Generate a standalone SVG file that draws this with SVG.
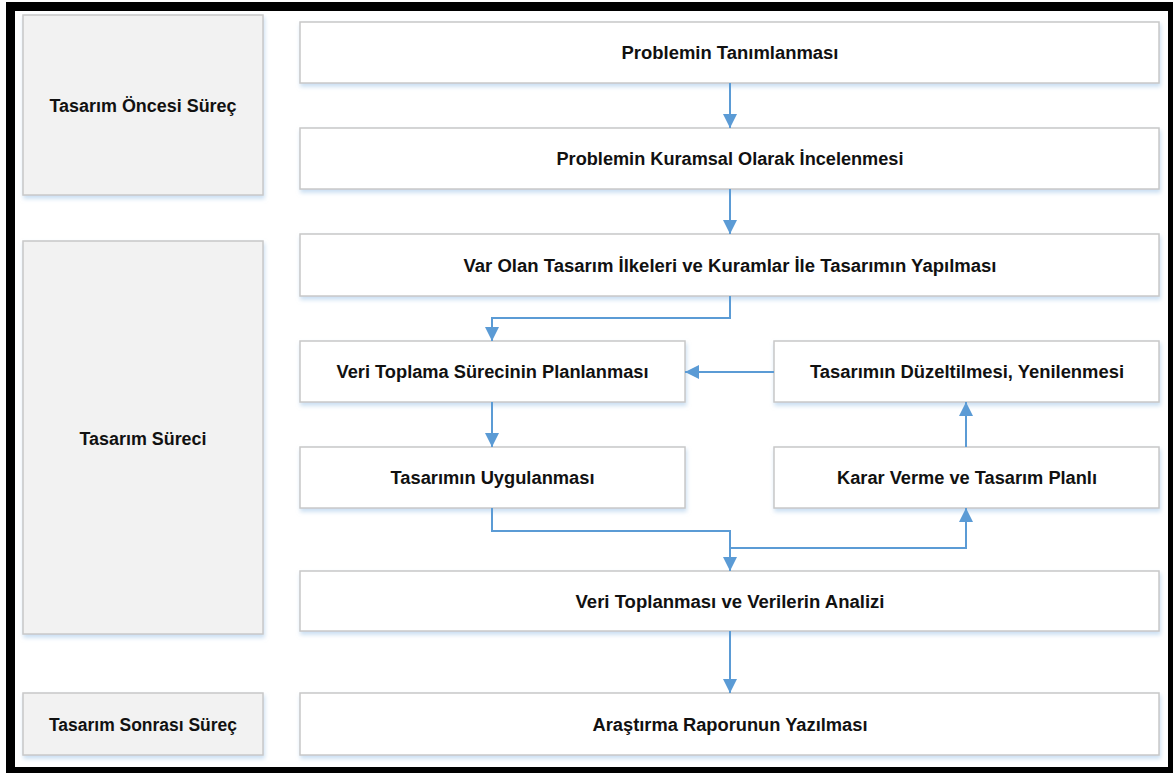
<svg xmlns="http://www.w3.org/2000/svg" width="1173" height="773" viewBox="0 0 1173 773">
<style>
.box{fill:#ffffff;stroke:#c8c8c8;stroke-width:1.5;filter:url(#sh)}
.side{fill:#f2f2f2;stroke:#c8c8c8;stroke-width:1.5;filter:url(#sh)}
.t{font-family:"Liberation Sans",Arial,sans-serif;font-weight:bold;font-size:18px;fill:#111111;text-anchor:middle}
.c{fill:none;stroke:#5b9bd5;stroke-width:2}
</style>
<defs>
<filter id="sh" x="-5%" y="-20%" width="110%" height="150%">
<feDropShadow dx="1" dy="3" stdDeviation="2" flood-color="#9dc3e6" flood-opacity="0.55"/>
</filter>
<marker id="ah" markerUnits="userSpaceOnUse" markerWidth="14" markerHeight="14" refX="14" refY="7" orient="auto">
<path d="M0,0 L14,7 L0,14 z" fill="#5b9bd5"/>
</marker>
</defs>
<rect x="0" y="0" width="1173" height="773" fill="#ffffff"/>
<rect x="10.5" y="6.5" width="1162" height="765" fill="none" stroke="#000000" stroke-width="9"/>

<g id="n-oncesi"><rect class="side" x="23" y="15" width="240" height="180"/><text class="t" x="143" y="112" textLength="187" lengthAdjust="spacingAndGlyphs">Tasarım Öncesi Süreç</text></g>
<g id="n-sureci"><rect class="side" x="23" y="241" width="240" height="393"/><text class="t" x="143" y="445" textLength="127" lengthAdjust="spacingAndGlyphs">Tasarım Süreci</text></g>
<g id="n-sonrasi"><rect class="side" x="23" y="693" width="240" height="62"/><text class="t" x="143" y="731" textLength="188" lengthAdjust="spacingAndGlyphs">Tasarım Sonrası Süreç</text></g>

<g id="n1"><rect class="box" x="300" y="22" width="859" height="61"/><text class="t" x="730" y="59" textLength="217" lengthAdjust="spacingAndGlyphs">Problemin Tanımlanması</text></g>
<g id="n2"><rect class="box" x="300" y="128" width="859" height="61"/><text class="t" x="730" y="165" textLength="347" lengthAdjust="spacingAndGlyphs">Problemin Kuramsal Olarak İncelenmesi</text></g>
<g id="n3"><rect class="box" x="300" y="234" width="859" height="62"/><text class="t" x="730" y="272" textLength="533" lengthAdjust="spacingAndGlyphs">Var Olan Tasarım İlkeleri ve Kuramlar İle Tasarımın Yapılması</text></g>
<g id="n4"><rect class="box" x="300" y="341" width="385" height="61"/><text class="t" x="492.5" y="378" textLength="312" lengthAdjust="spacingAndGlyphs">Veri Toplama Sürecinin Planlanması</text></g>
<g id="n5"><rect class="box" x="774" y="341" width="385" height="61"/><text class="t" x="967" y="378" textLength="314" lengthAdjust="spacingAndGlyphs">Tasarımın Düzeltilmesi, Yenilenmesi</text></g>
<g id="n6"><rect class="box" x="300" y="447" width="385" height="61"/><text class="t" x="492.5" y="484" textLength="204" lengthAdjust="spacingAndGlyphs">Tasarımın Uygulanması</text></g>
<g id="n7"><rect class="box" x="774" y="447" width="385" height="61"/><text class="t" x="967" y="484" textLength="260" lengthAdjust="spacingAndGlyphs">Karar Verme ve Tasarım Planlı</text></g>
<g id="n8"><rect class="box" x="300" y="571" width="859" height="60"/><text class="t" x="730" y="608" textLength="309" lengthAdjust="spacingAndGlyphs">Veri Toplanması ve Verilerin Analizi</text></g>
<g id="n9"><rect class="box" x="300" y="693" width="859" height="62"/><text class="t" x="730" y="731" textLength="275" lengthAdjust="spacingAndGlyphs">Araştırma Raporunun Yazılması</text></g>

<g id="connectors">
<path class="c" d="M730,83 V128" marker-end="url(#ah)"/>
<path class="c" d="M730,189 V234" marker-end="url(#ah)"/>
<path class="c" d="M730,296 V318 H492 V341" marker-end="url(#ah)"/>
<path class="c" d="M774,372 H685" marker-end="url(#ah)"/>
<path class="c" d="M492,402 V447" marker-end="url(#ah)"/>
<path class="c" d="M492,508 V531 H730 V571" marker-end="url(#ah)"/>
<path class="c" d="M730,548 H966 V508" marker-end="url(#ah)"/>
<path class="c" d="M966,447 V402" marker-end="url(#ah)"/>
<path class="c" d="M730,631 V693" marker-end="url(#ah)"/>
</g>
</svg>
